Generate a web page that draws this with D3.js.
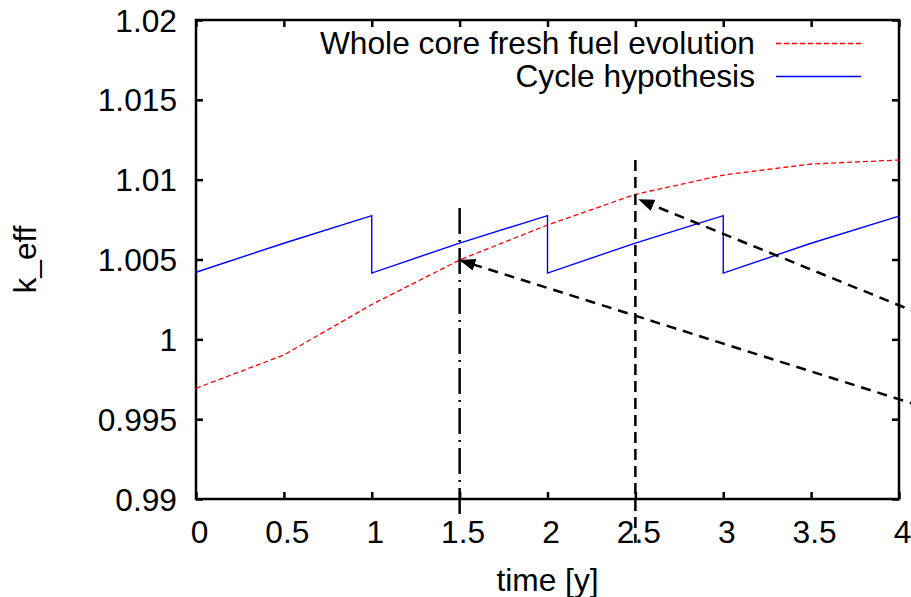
<!DOCTYPE html>
<html><head><meta charset="utf-8">
<script src="https://cdn.jsdelivr.net/npm/d3@7"></script>
<style>
body{margin:0;background:#fff;}
text{font-family:"Liberation Sans",Arial,sans-serif;}
</style></head>
<body><svg id="c" width="911" height="597"></svg>
<script>
// ---- data ----
const freshT = [0, 0.5, 1, 1.5, 2, 2.5, 3, 3.5, 4];
const freshK = [0.99693, 0.99902, 1.00218, 1.00497, 1.00716, 1.00908, 1.01029, 1.01098, 1.01123];
const cycleT = [0, 0.5, 1, 1, 1.5, 2, 2, 2.5, 3, 3, 3.5, 4];
const cycleK = [1.0042, 1.00602, 1.00775, 1.00415, 1.00603, 1.00775, 1.00415, 1.00603, 1.00775, 1.00415, 1.00602, 1.00772];
const xTicks = [0, 0.5, 1, 1.5, 2, 2.5, 3, 3.5, 4];
const xTickLabels = ["0", "0.5", "1", "1.5", "2", "2.5", "3", "3.5", "4"];
const yTicks = [0.99, 0.995, 1, 1.005, 1.01, 1.015, 1.02];
const yTickLabels = ["0.99", "0.995", "1", "1.005", "1.01", "1.015", "1.02"];
const legendLabels = ["Whole core fresh fuel evolution", "Cycle hypothesis"];
// annotation lines: [t1, k1, t2, k2]
const vLines = [[1.5, 1.00823, 1.5, 0.98875], [2.5, 1.01123, 2.5, 0.98724]];
const arrows = [[4.3, 0.99520, 1.498, 1.00497], [4.3, 1.00079, 2.5166, 1.00877]];

const svg = d3.select("#c");
const x = d3.scaleLinear().domain([0, 4]).range([196, 899]);
const y = d3.scaleLinear().domain([0.99, 1.02]).range([499, 20]);

// axes
const fs = 31.7;
const gB = svg.append("g").attr("transform", `translate(0,${y(0.99)})`)
  .call(d3.axisBottom(x).tickValues(xTicks).tickSize(-7).tickSizeOuter(0)
    .tickFormat((d, i) => xTickLabels[i]));
gB.selectAll("text").attr("y", 44).attr("dy", null).attr("dx", 3);
const gT = svg.append("g").attr("transform", `translate(0,${y(1.02)})`)
  .call(d3.axisTop(x).tickValues(xTicks).tickSize(-7).tickSizeOuter(0).tickFormat(""));
const gL = svg.append("g").attr("transform", `translate(${x(0)},0)`)
  .call(d3.axisLeft(y).tickValues(yTicks).tickSize(-7).tickSizeOuter(0)
    .tickFormat((d, i) => yTickLabels[i]));
gL.selectAll("text").attr("x", -19).attr("dy", 11);
const gR = svg.append("g").attr("transform", `translate(${x(4)},0)`)
  .call(d3.axisRight(y).tickValues(yTicks).tickSize(-7).tickSizeOuter(0).tickFormat(""));
[gB, gT, gL, gR].forEach(g => {
  g.select(".domain").remove();
  g.selectAll("line").attr("stroke", "#000").attr("stroke-width", 2.5);
  g.selectAll("text").attr("font-size", fs).attr("fill", "#000")
    .attr("font-family", "'Liberation Sans', Arial, sans-serif");
});
// frame
svg.append("rect").attr("x", x(0)).attr("y", y(1.02))
  .attr("width", x(4) - x(0)).attr("height", y(0.99) - y(1.02))
  .attr("fill", "none").attr("stroke", "#000").attr("stroke-width", 2.5);

// axis labels
svg.append("text").attr("x", (x(0) + x(4)) / 2).attr("y", 591)
  .attr("text-anchor", "middle").attr("font-size", fs).text("time [y]");
svg.append("text").attr("transform", `translate(36,${(y(0.99) + y(1.02)) / 2}) rotate(-90)`)
  .attr("text-anchor", "middle").attr("font-size", fs).text("k_eff");

// data lines
const line = d3.line().x(d => x(d[0])).y(d => y(d[1]));
svg.append("path").datum(freshT.map((t, i) => [t, freshK[i]]))
  .attr("d", line).attr("fill", "none").attr("stroke", "#ff0000")
  .attr("stroke-width", 1.3).attr("stroke-dasharray", "5,3");
svg.append("path").datum(cycleT.map((t, i) => [t, cycleK[i]]))
  .attr("d", line).attr("fill", "none").attr("stroke", "#0000ff")
  .attr("stroke-width", 1.4);

// vertical markers
svg.append("line").attr("x1", x(vLines[0][0])).attr("y1", y(vLines[0][1]))
  .attr("x2", x(vLines[0][2])).attr("y2", y(vLines[0][3]))
  .attr("stroke", "#000").attr("stroke-width", 2.5).attr("stroke-dasharray", "26,6,2,6");
svg.append("line").attr("x1", x(vLines[1][0])).attr("y1", y(vLines[1][1]))
  .attr("x2", x(vLines[1][2])).attr("y2", y(vLines[1][3]))
  .attr("stroke", "#000").attr("stroke-width", 2.5).attr("stroke-dasharray", "11,6");

// arrows
svg.append("defs").append("marker").attr("id", "ah")
  .attr("viewBox", "0 0 16 12").attr("refX", 16).attr("refY", 6)
  .attr("markerWidth", 16).attr("markerHeight", 12).attr("markerUnits", "userSpaceOnUse")
  .attr("orient", "auto")
  .append("path").attr("d", "M0,0 L16,6 L0,12 Z").attr("fill", "#000");
arrows.forEach(a => {
  svg.append("line").attr("x1", x(a[0])).attr("y1", y(a[1]))
    .attr("x2", x(a[2])).attr("y2", y(a[3]))
    .attr("stroke", "#000").attr("stroke-width", 2.5).attr("stroke-dasharray", "10,7")
    .attr("marker-end", "url(#ah)");
});

// legend
const legY = [43.5, 76.5];
legendLabels.forEach((lab, i) => {
  svg.append("text").attr("x", 755).attr("y", legY[i] + 10.5)
    .attr("text-anchor", "end").attr("font-size", fs).text(lab);
  svg.append("line").attr("x1", 776).attr("x2", 861).attr("y1", legY[i]).attr("y2", legY[i])
    .attr("stroke", i === 0 ? "#ff0000" : "#0000ff").attr("stroke-width", i === 0 ? 1.3 : 1.4)
    .attr("stroke-dasharray", i === 0 ? "5,3" : null);
});
</script></body></html>
